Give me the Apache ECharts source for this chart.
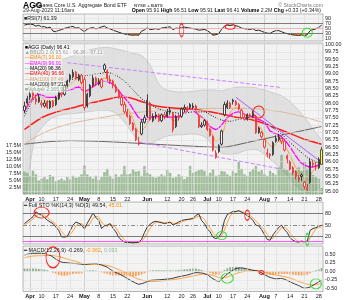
<!DOCTYPE html>
<html><head><meta charset="utf-8">
<script src="https://cdn.jsdelivr.net/npm/echarts@6/dist/echarts.min.js"></script>
<style>html,body{margin:0;padding:0;background:#fff}#c{width:348px;height:300px}</style>
</head><body><div id="c"></div>
<script>
const dates = ['3/30','3/31','4/3','4/4','4/5','4/6','4/10','4/11','4/12','4/13','4/14','4/17','4/18','4/19','4/20','4/21','4/24','4/25','4/26','4/27','4/28',
'5/1','5/2','5/3','5/4','5/5','5/8','5/9','5/10','5/11','5/12','5/15','5/16','5/17','5/18','5/19','5/22','5/23','5/24','5/25','5/26','5/30','5/31',
'6/1','6/2','6/5','6/6','6/7','6/8','6/9','6/12','6/13','6/14','6/15','6/16','6/20','6/21','6/22','6/23','6/26','6/27','6/28','6/29','6/30',
'7/3','7/5','7/6','7/7','7/10','7/11','7/12','7/13','7/14','7/17','7/18','7/19','7/20','7/21','7/24','7/25','7/26','7/27','7/28','7/31',
'8/1','8/2','8/3','8/4','8/7','8/8','8/9','8/10','8/11','8/14','8/15','8/16','8/17','8/18','8/21','8/22','8/23','8/24','8/25','8/28','8/29'];
const tickDates = ['4/3','4/10','4/17','4/24','5/1','5/8','5/15','5/22','6/1','6/12','6/20','6/26','7/3','7/10','7/17','7/24','8/1','8/7','8/14','8/21','8/28'];
const tickText  = ['Apr','10','17','24','May','8','15','22','Jun','12','20','26','Jul','10','17','24','Aug','7','14','21','28'];
const monthDates = ['4/3','5/1','6/1','7/3','8/1'];

const opens = [97.75,98.00,98.20,98.35,98.15,98.05,98.00,97.90,98.05,97.85,
98.05,97.95,98.15,98.35,98.30,98.60,98.80,98.90,99.05,98.80,
98.95,98.80,97.90,98.25,98.60,98.85,98.65,98.80,99.30,99.10,
98.80,98.75,98.55,98.40,98.20,97.95,97.70,97.55,97.30,97.10,
96.60,96.95,97.35,97.55,98.00,97.40,97.55,97.60,97.40,97.60,
97.55,97.70,97.65,97.20,97.55,97.55,97.80,97.85,97.95,97.85,
97.90,97.55,97.20,97.25,97.35,97.10,96.85,96.15,96.35,96.60,
97.60,97.85,98.00,98.10,98.05,97.95,97.75,97.50,97.45,97.60,
97.55,97.55,97.00,97.00,96.75,96.25,96.25,96.25,96.70,96.75,
96.80,96.70,96.20,96.00,95.80,95.65,95.45,95.55,95.30,95.05,
95.30,95.95,95.85,95.80,95.91];
const highs = [98.05,98.25,98.40,98.45,98.30,98.30,98.10,98.10,98.10,98.10,
98.10,98.25,98.40,98.40,98.65,98.80,99.00,99.15,99.10,99.00,
99.00,98.90,98.35,98.65,98.95,98.90,98.85,98.85,99.35,99.15,
98.95,98.80,98.65,98.45,98.25,98.05,97.80,97.60,97.35,97.15,
96.85,97.45,97.60,98.30,98.05,97.65,97.70,97.65,97.65,97.70,
97.80,97.85,97.70,97.60,97.65,97.85,97.95,97.90,98.00,98.00,
97.95,97.60,97.35,97.45,97.40,97.15,96.90,96.40,96.60,97.10,
98.05,98.10,98.05,98.15,98.10,98.00,97.80,97.60,97.65,97.65,
97.75,97.60,97.20,97.05,96.80,96.45,96.30,96.70,96.90,96.95,
96.85,96.75,96.25,96.05,95.85,95.70,95.55,95.60,95.35,95.25,
96.10,96.05,96.00,96.15,96.51];
const lows = [97.65,97.95,98.10,98.15,97.95,98.00,97.85,97.85,97.80,97.80,
97.85,97.90,98.10,98.20,98.25,98.50,98.70,98.85,98.80,98.75,
98.65,97.75,97.85,98.20,98.55,98.60,98.60,98.50,99.05,98.75,
98.65,98.50,98.35,98.15,97.90,97.65,97.50,97.25,97.05,96.70,
96.55,96.90,97.30,97.50,97.40,97.35,97.45,97.35,97.35,97.45,
97.50,97.60,97.00,97.15,97.40,97.50,97.70,97.70,97.80,97.80,
97.75,97.15,97.15,97.20,97.05,96.85,96.35,96.10,96.30,96.55,
97.55,97.80,97.80,97.95,97.90,97.75,97.45,97.40,97.40,97.50,
97.50,96.95,96.95,96.80,96.45,96.15,96.10,96.20,96.65,96.70,
96.60,96.35,95.95,95.70,95.55,95.40,95.30,95.35,95.05,95.00,
95.25,95.80,95.70,95.75,95.91];
const closes = [97.90,98.15,98.30,98.25,98.05,98.20,97.95,98.00,97.85,98.05,
97.90,98.20,98.35,98.30,98.60,98.75,98.95,99.05,98.85,98.95,
98.70,97.85,98.30,98.60,98.85,98.70,98.75,98.55,99.15,98.85,
98.75,98.60,98.40,98.20,97.95,97.70,97.55,97.30,97.10,96.75,
96.65,97.35,97.50,98.10,97.45,97.55,97.60,97.40,97.60,97.55,
97.70,97.75,97.10,97.55,97.50,97.80,97.85,97.75,97.85,97.90,
97.80,97.20,97.25,97.40,97.10,96.90,96.40,96.30,96.55,97.05,
97.95,98.00,97.85,98.05,97.95,97.80,97.50,97.45,97.60,97.55,
97.65,97.00,97.15,96.85,96.50,96.30,96.20,96.65,96.80,96.85,
96.70,96.40,96.10,95.75,95.65,95.50,95.40,95.50,95.15,95.10,
96.00,95.90,95.85,96.08,96.41];
const volumeM = [8.0,7.5,6.5,8.3,7.0,4.8,5.5,6.0,5.2,6.8,
6.2,4.5,5.0,5.5,4.8,6.0,5.2,6.5,5.8,6.0,
7.0,10.2,7.0,6.2,5.5,6.5,5.0,6.0,7.8,9.0,
6.5,5.5,7.0,6.0,7.0,10.0,7.0,7.2,8.8,8.0,
8.2,6.5,10.0,7.5,7.0,6.0,5.8,6.2,7.0,6.5,
8.5,7.5,5.8,6.0,7.0,6.5,5.3,6.0,10.0,7.5,
8.0,8.5,8.8,8.2,6.5,7.5,8.8,6.5,6.8,8.2,
8.0,7.0,6.5,8.2,7.5,11.5,9.0,7.0,6.5,8.0,
9.0,10.0,8.0,8.5,7.0,6.5,8.2,7.5,6.8,9.5,
14.0,9.0,8.5,7.5,8.0,8.5,9.5,8.2,11.5,9.0,
7.0,6.8,6.0,5.5,2.2];

// overlays: [day index, value]
const bbIdx   = [0,1,2,3,4,6,9,13,18,22,26,29,32,35,38,41,44,46,48,51,55,59,63,66,69,72,75,78,81,84,87,90,93,96,99,102,104];
const bbUpper = [100.1,100.05,100.0,99.9,99.8,99.65,99.5,99.5,99.65,99.8,99.88,99.9,99.85,99.78,99.7,99.62,99.3,98.85,98.55,98.42,98.38,98.4,98.45,98.45,98.42,98.5,98.55,98.55,98.52,98.45,98.35,98.25,98.05,97.75,97.4,97.0,96.75];
const bbLower = [94.7,95.2,95.9,96.5,96.9,97.15,97.45,97.6,97.65,97.7,97.75,97.75,97.65,97.35,96.95,96.65,96.6,96.7,96.8,96.9,96.92,96.95,96.85,96.55,96.3,96.25,96.3,96.4,96.42,96.25,96.0,95.75,95.4,95.1,94.95,95.05,95.2];
const ma20 = [[0,97.55],[2,97.95],[4,98.25],[6,98.5],[9,98.65],[13,98.7],[18,98.85],[22,98.95],[26,99.0],[29,99.05],[32,98.95],[35,98.75],[38,98.45],[41,98.15],[44,97.95],[47,97.8],[51,97.7],[55,97.65],[59,97.7],[63,97.7],[66,97.55],[69,97.42],[72,97.38],[75,97.45],[78,97.5],[81,97.5],[84,97.35],[87,97.15],[90,96.95],[93,96.65],[96,96.4],[99,96.15],[102,96.0],[104,95.95]];
const ema7 = [[0,97.75],[2,98.1],[5,98.25],[8,98.05],[11,98.1],[13,98.3],[16,98.65],[19,98.85],[21,98.35],[23,98.45],[25,98.7],[28,98.85],[30,98.8],[32,98.55],[34,98.2],[36,97.85],[38,97.45],[40,97.0],[42,97.15],[44,97.45],[46,97.5],[48,97.5],[50,97.6],[52,97.4],[54,97.45],[56,97.7],[58,97.8],[60,97.8],[61,97.6],[63,97.45],[65,97.15],[67,96.7],[69,96.85],[71,97.5],[73,97.8],[75,97.85],[77,97.6],[79,97.55],[81,97.35],[83,97.1],[85,96.65],[87,96.5],[89,96.7],[91,96.6],[93,96.2],[95,95.8],[97,95.55],[99,95.35],[101,95.7],[103,95.85],[104,96.0]];
const ema9 = [[0,97.7],[2,98.05],[5,98.3],[8,98.2],[11,98.2],[13,98.35],[16,98.45],[19,98.55],[21,98.4],[24,98.55],[27,98.75],[30,98.7],[32,98.55],[34,98.3],[37,97.95],[40,97.5],[42,97.42],[44,97.52],[47,97.55],[51,97.52],[54,97.55],[58,97.8],[61,97.6],[63,97.45],[65,97.2],[67,97.1],[69,97.25],[71,97.5],[73,97.65],[75,97.7],[78,97.58],[80,97.52],[84,97.35],[86,97.05],[89,96.92],[91,96.75],[93,96.5],[95,96.2],[97,95.95],[100,95.82],[102,95.85],[104,95.95]];
const ema40 = [[0,97.1],[6,97.5],[12,97.72],[18,97.87],[24,98.02],[30,98.15],[34,98.23],[38,98.15],[42,98.02],[46,97.9],[52,97.83],[58,97.8],[64,97.72],[69,97.63],[74,97.52],[79,97.45],[84,97.3],[88,97.15],[92,97.0],[98,96.77],[104,96.6]];
const ma100 = [[0,96.6],[3,96.8],[6,96.95],[10,97.12],[16,97.3],[22,97.42],[34,97.62],[44,97.72],[55,97.78],[65,97.82],[75,97.82],[82,97.8],[90,97.7],[97,97.55],[104,97.35]];
const ma200 = [[0,96.6],[8,96.68],[16,96.72],[25,96.7],[34,96.66],[45,96.6],[57,96.54],[69,96.49],[80,96.7],[92,96.95],[104,97.2]];

const rsi7 = [62,65,66,64,58,61,55,56,51,54,
38,36,41,44,49,52,55,57,50,52,
44,36,46,50,52,47,50,55,58,50,
47,42,38,34,30,27,25,23,22,23,
22,38,43,52,44,46,48,45,50,52,
54,55,44,50,49,53,54,52,50,48,
46,42,43,45,40,32,22,24,28,45,
58,62,60,63,60,56,50,48,46,45,
48,40,42,38,33,30,29,36,40,40,
36,31,28,25,23,22,21,23,20,24,
40,44,47,53,61.39];
const stoK = [54,60,66,72,85,80,76,70,63,58,
54,45,36,19,18,20,35,50,58,55,
50,40,55,68,82,70,62,41,48,50,
54,42,32,18,10,5,4,4,3,4,
5,12,30,45,52,58,60,58,56,54,
56,58,50,54,58,62,64,65,66,68,
75,80,62,54,40,32,18,14,18,30,
62,78,82,86,86,88,84,80,75,70,
62,50,48,38,25,12,10,24,34,44,
50,38,30,16,10,6,5,8,5,8,
36,41,43,47,49.54];
const stoD = [50,55,60,66,74,79,80,75,70,64,
58,52,45,33,24,19,24,35,48,54,
54,48,48,54,68,73,71,58,50,46,
51,49,43,31,20,11,6,4,4,4,
4,7,16,29,42,52,57,59,58,56,
55,56,55,54,54,58,61,64,65,66,
70,74,72,65,52,42,30,21,17,21,
37,57,74,82,85,87,86,84,80,75,
69,61,53,45,37,25,16,15,23,34,
43,44,39,28,19,11,7,6,6,7,
16,28,40,44,45.01];
const macdLine = [[0,0.48],[3,0.53],[6,0.53],[9,0.47],[11,0.36],[13,0.27],[16,0.24],[19,0.22],[21,0.2],[23,0.22],[25,0.23],[27,0.18],[29,0.12],[31,0.0],[33,-0.07],[35,-0.16],[37,-0.26],[39,-0.35],[40,-0.38],[42,-0.34],[44,-0.27],[47,-0.25],[51,-0.22],[54,-0.16],[57,-0.11],[60,-0.04],[62,-0.05],[64,-0.1],[66,-0.22],[68,-0.3],[70,-0.15],[72,-0.02],[74,0.08],[76,0.1],[78,0.07],[80,0.03],[82,0.0],[84,-0.1],[86,-0.18],[88,-0.22],[90,-0.21],[92,-0.27],[94,-0.35],[96,-0.42],[98,-0.5],[100,-0.46],[102,-0.36],[104,-0.269]];
const macdSignal = [[0,0.40],[3,0.45],[6,0.46],[9,0.47],[12,0.43],[15,0.36],[18,0.29],[21,0.21],[24,0.2],[27,0.2],[30,0.15],[33,0.05],[36,-0.06],[39,-0.2],[42,-0.28],[45,-0.3],[48,-0.28],[52,-0.25],[56,-0.19],[60,-0.12],[63,-0.08],[66,-0.12],[69,-0.2],[72,-0.14],[75,-0.04],[78,0.01],[81,0.03],[84,-0.02],[87,-0.09],[90,-0.14],[93,-0.2],[96,-0.3],[99,-0.38],[101,-0.4],[104,-0.362]];
const macdHist = [0.08,0.08,0.08,0.08,0.08,0.07,0.07,0.05,0.03,0.00,
-0.04,-0.07,-0.11,-0.13,-0.13,-0.12,-0.10,-0.08,-0.07,-0.07,
-0.06,0.01,0.02,0.03,0.03,0.02,0.00,-0.03,-0.06,-0.08,
-0.10,-0.12,-0.12,-0.12,-0.12,-0.13,-0.14,-0.15,-0.15,-0.14,
-0.12,-0.09,-0.06,-0.02,0.02,0.03,0.03,0.03,0.03,0.03,
0.03,0.03,0.02,0.03,0.04,0.05,0.06,0.06,0.07,0.08,
0.08,0.06,0.04,0.01,-0.02,-0.05,-0.09,-0.10,-0.10,-0.04,
0.04,0.09,0.12,0.13,0.13,0.12,0.10,0.08,0.06,0.03,
0.01,-0.01,-0.02,-0.05,-0.08,-0.10,-0.11,-0.11,-0.10,-0.09,
-0.08,-0.08,-0.08,-0.09,-0.10,-0.11,-0.12,-0.12,-0.12,-0.10,
-0.06,-0.02,0.03,0.06,0.093];

const priceTicks = [95,95.25,95.5,95.75,96,96.25,96.5,96.75,97,97.25,97.5,97.75,98,98.25,98.5,98.75,99,99.25,99.5,99.75,100];
const volTicks = [2.5,5,7.5,10,12.5,15,17.5];
const rsiTicks = [10,30,50,70,90];
const stoTicks = [20,50,80];
const macdTicks = [-0.5,-0.25,0,0.25,0.5];

// annotations [index, value, w, h, color]
const priceNotes = [[82,97.7,11,12,'#ff2020']];
const rsiNotes = [[55,42,4.5,13,'#ff2020'],[72,56,10,5.5,'#ff2020'],[99,32,10,9,'#33dd33']];
const stoNotes = [[6,83,15,11,'#ff2020'],[78,76,5,10,'#ff2020'],[69,22,10,8,'#33dd33'],[99,12,3.5,12,'#33dd33']];
const macdNotes = [[10,0.41,14,21,'#ff2020'],[71,-0.2,12,10,'#33dd33'],[83,-0.035,5,4,'#ff2020'],[102,-0.37,11,10,'#33dd33']];
const trendLines = [[15,99.38,90,98.53,'dashed'],[40,96.67,90,95.75,'dashed'],[74,98.2,104,95.98,'solid']];

const FONT = '"Liberation Sans", Arial, Helvetica, sans-serif';
const tickMap = {}; tickDates.forEach((d,k)=>tickMap[d]=tickText[k]);
const monthSet = new Set(monthDates);

function notes(list){
  return {symbol:'circle', silent:true, animation:false, label:{show:false},
    data:list.map(n=>({coord:[n[0],n[1]], symbolSize:[n[2],n[3]],
      itemStyle:{color:'rgba(0,0,0,0)', borderColor:n[4], borderWidth:1}}))};
}
function xAx(gi, show){
  return {type:'category', gridIndex:gi, data:dates, boundaryGap:true,
    axisLine:{show:false}, axisTick:{show:false}, splitLine:{show:false},
    axisLabel: show ? {show:true, interval:(i,v)=>tickMap[v]!==undefined, margin:2.2,
      fontSize:5.5, fontFamily:FONT, color:'#222',
      formatter:(v)=>{const t=tickMap[v]; if(t===undefined) return ''; return isNaN(+t)?'{m|'+t+'}':t;},
      rich:{m:{fontWeight:'bold', fontSize:5.6, fontFamily:FONT, color:'#111'}}} : {show:false}};
}
function yAx(gi, min, max, ticks, fmt, pos){
  return {type:'value', gridIndex:gi, position:pos||'right', min, max, scale:true,
    axisLine:{show:false}, axisTick:{show:false}, splitLine:{show:false},
    axisLabel:{show:true, customValues:ticks, formatter:fmt, fontSize:5.4, fontFamily:FONT, color:'#222', margin:2}};
}
function gridLines(xi, yi, hVals, hColor){
  const d = [];
  tickDates.forEach(t=>d.push({xAxis:t, lineStyle:{color:monthSet.has(t)?'#b9b9b9':'#dadada', width:0.6, type:'solid'}}));
  hVals.forEach(v=>d.push({yAxis:v, lineStyle:{color:hColor, width:0.6, type:'solid'}}));
  return {type:'line', xAxisIndex:xi, yAxisIndex:yi, data:[], silent:true, z:0,
    markLine:{silent:true, animation:false, symbol:['none','none'], label:{show:false}, lineStyle:{type:'solid'}, data:d}};
}
function hLines(list){
  return {silent:true, animation:false, symbol:['none','none'], label:{show:false},
    data:list.map(l=>({yAxis:l[0], lineStyle:{color:l[1], width:l[2], type:l[3]||'solid'}}))};
}
function lineS(xi, yi, data, color, width, z, type, smooth){
  return {type:'line', xAxisIndex:xi, yAxisIndex:yi, data, symbol:'none', silent:true, z:z||3,
    smooth: smooth===undefined?0.2:smooth, lineStyle:{color, width, type:type||'solid'}};
}

const candleData = dates.map((d,i)=>{
  const up = i===0 || closes[i] >= closes[i-1];
  const col = up ? '#1a1a1a' : '#f01a1a';
  const isLast = i===dates.length-1;
  return {value:[opens[i], closes[i], lows[i], highs[i]],
    itemStyle:{color:isLast?'#ffff30':'#fbfbfb', color0:col, borderColor:isLast?'#333':col, borderColor0:col}};
});
const bbLowPairs = bbIdx.map((x,k)=>[x, bbLower[k]]);
const bbRangePairs = bbIdx.map((x,k)=>[x, +(bbUpper[k]-bbLower[k]).toFixed(3)]);
const rsiLow = rsi7.map(v=>Math.min(v,30));
const rsiGap = rsi7.map(v=>+(30-Math.min(v,30)).toFixed(2));

const grids = [
  {left:23, width:300, top:14, height:27},
  {left:23, width:300, top:43, height:151},
  {left:23, width:300, top:202, height:42},
  {left:23, width:300, top:246, height:45.5}
].map(g=>Object.assign(g,{show:true, backgroundColor:'#f3f3f3', borderColor:'#8a8a8a', borderWidth:0.6}));

function T(x, y, text, o){
  o = o || {};
  const size = o.size || 5.3, weight = o.weight || 'normal';
  const st = {text, x:0, y:0, fill:o.fill||'#111', font: weight+' '+size+'px '+FONT,
    align:o.align||'left', verticalAlign:'middle', textAlign:o.align||'left', textVerticalAlign:'middle'};
  if (o.rich) st.rich = o.rich;
  if (o.bg) { st.backgroundColor = o.bg; st.padding = [0.4,0.8]; }
  return {type:'text', x, y, silent:true, z:100, style:st};
}
const rb = (w,c,s)=>({font:(w||'normal')+' '+(s||5.3)+'px '+FONT, fill:c||'#111'});

const legendRows = [
  ['■AGG (Daily) 96.41','#000'],
  ['▲BB(20,2.0) 95.61 - 96.36 - 97.11','#9a9a9a'],
  ['—EMA(7) 96.00','#ff8c00'],
  ['—EMA(9) 96.01','#ff00ff'],
  ['···MA(20) 96.36','#000'],
  ['—EMA(40) 96.66','#ff0000'],
  ['—MA(100) 97.49','#c8a070'],
  ['—MA(200) 97.21','#333'],
  ['■Volume 2,165,925','#8fae8f']
];

const graphics = [
  T(23,5.6,'AGG',{size:8.5, weight:'bold', fill:'#000'}),
  T(35,5.9,'iShares Core U.S. Aggregate Bond ETF',{size:5.2, fill:'#222'}),
  T(134,5.9,'NYSE + BATS',{size:4.4, weight:'bold', fill:'#555'}),
  T(323,5.6,'© StockCharts.com',{size:5.2, fill:'#777', align:'right'}),
  T(23,10.9,'29-Aug-2023 11:16am',{size:5.2, fill:'#222'}),
  T(321,10.9,'{b|Open} 95.91 {b|High} 96.51 {b|Low} 95.91 {b|Last} 96.41 {b|Volume} 2.2M {b|Chg} +0.33 (+0.34%)',
    {size:5.2, fill:'#222', align:'right', rich:{b:rb('bold','#000',5.2)}}),
  T(24,18.2,'■RSI(7) 61.39',{size:5.2, fill:'#222'}),
  T(24,205.6,'{k|━} Full STO %K(14,3) %D(3) 49.54, {o|45.01}',{size:5.4, fill:'#222', rich:{k:rb('bold','#222',5.4), o:rb('normal','#ff9000',5.4)}}),
  T(24,250.4,'{k|━} MACD(12,26,9) -0.269, {o|-0.362}, {g|0.093}',{size:5.4, fill:'#222', rich:{k:rb('bold','#222',5.4), o:rb('normal','#ff9000',5.4), g:rb('normal','#9ab89a',5.4)}})
];
legendRows.forEach((r,k)=>graphics.push(T(24, 47.3 + k*5.3, r[0], {size:5.1, fill:r[1], bg:'rgba(255,255,255,0.55)'})));

const option = {
  animation:false, backgroundColor:'#ffffff',
  grid: grids,
  xAxis:[xAx(0,false), xAx(1,true), xAx(2,false), xAx(3,true)],
  yAxis:[
    yAx(0,-1,106,rsiTicks,v=>String(v)),
    yAx(1,94.9,100.05,priceTicks,v=>v.toFixed(2)),
    yAx(1,0,54.2,volTicks,v=>v.toFixed(1)+'M','left'),
    yAx(2,0,111,stoTicks,v=>String(v)),
    yAx(3,-0.594,0.744,macdTicks,v=>v.toFixed(2))
  ],
  series:[
    gridLines(0,0,[10,90],'#e2e2e2'),
    gridLines(1,1,priceTicks,'#dedede'),
    gridLines(2,3,[],'#e2e2e2'),
    gridLines(3,4,macdTicks,'#e4e4e4'),
    // RSI
    {type:'line', xAxisIndex:0, yAxisIndex:0, data:rsiLow, stack:'rsiF', symbol:'none', silent:true, z:1, lineStyle:{opacity:0}},
    {type:'line', xAxisIndex:0, yAxisIndex:0, data:rsiGap, stack:'rsiF', symbol:'none', silent:true, z:1, lineStyle:{opacity:0}, areaStyle:{color:'#ff8c2a', opacity:0.95}},
    Object.assign(lineS(0,0,rsi7,'#262626',1,3,'solid',0), {
      markLine:hLines([[70,'#5e5e5e',0.8],[30,'#5e5e5e',0.8],[50,'#e8a6a6',0.8]]), markPoint:notes(rsiNotes)}),
    // Bollinger band
    {type:'line', xAxisIndex:1, yAxisIndex:1, data:bbLowPairs, stack:'bb', symbol:'none', silent:true, z:1, smooth:0.3, lineStyle:{color:'#b0b0b0', width:0.5}},
    {type:'line', xAxisIndex:1, yAxisIndex:1, data:bbRangePairs, stack:'bb', symbol:'none', silent:true, z:1, smooth:0.3, lineStyle:{color:'#b0b0b0', width:0.5}, areaStyle:{color:'rgba(150,150,150,0.28)'}},
    // volume
    {type:'bar', xAxisIndex:1, yAxisIndex:2, data:volumeM, barWidth:2.1, silent:true, z:2,
      itemStyle:{color:'rgba(112,165,100,0.55)', borderColor:'rgba(80,130,70,0.8)', borderWidth:0.4}},
    Object.assign(lineS(1,1,ma200,'#5a4e4e',0.9,3), {
      markLine:{silent:true, animation:false, symbol:['none','none'], label:{show:false},
        data:trendLines.map(t=>[{coord:[t[0],t[1]], lineStyle:{color:t[4]==='solid'?'#b35cff':'#c883ff', width:1, type:t[4]==='solid'?'solid':[4,2]}},{coord:[t[2],t[3]]}])}}),
    lineS(1,1,ma100,'#d2b48c',0.9,3),
    lineS(1,1,ema40,'#ff1a1a',1.5,3),
    lineS(1,1,ma20,'#111',1,3,[1,1.6]),
    lineS(1,1,ema9,'#ff00ff',1.3,3),
    lineS(1,1,ema7,'#ff8c1a',0.8,3),
    {type:'candlestick', xAxisIndex:1, yAxisIndex:1, data:candleData, barWidth:1.9, silent:true, z:5,
      itemStyle:{borderWidth:0.8}, markPoint:notes(priceNotes)},
    // STO
    Object.assign(lineS(2,3,stoD,'#ff9a2e',0.9,3,'solid',0), {
      markLine:hLines([[80,'#5a5a5a',0.8],[20,'#5a5a5a',0.8],[50,'#5a5a5a',0.7,[4,2,1,2]],[7,'#ff30ff',0.8]])}),
    Object.assign(lineS(2,3,stoK,'#222',0.9,4,'solid',0), {markPoint:notes(stoNotes)}),
    // MACD
    {type:'bar', xAxisIndex:3, yAxisIndex:4, barWidth:1.8, silent:true, z:2,
      data:macdHist.map(v=>({value:v, itemStyle:{color: v>=0 ? '#8aaa8a' : '#f7a05a'}}))},
    lineS(3,4,macdSignal,'#ff9a2e',0.9,3,'solid',0.2),
    Object.assign(lineS(3,4,macdLine,'#222',0.9,4,'solid',0.2), {markPoint:notes(macdNotes)})
  ],
  graphic:{elements:graphics}
};
const chart = echarts.init(document.getElementById('c'), null, {renderer:'canvas'});
chart.setOption(option);
</script></body></html>
